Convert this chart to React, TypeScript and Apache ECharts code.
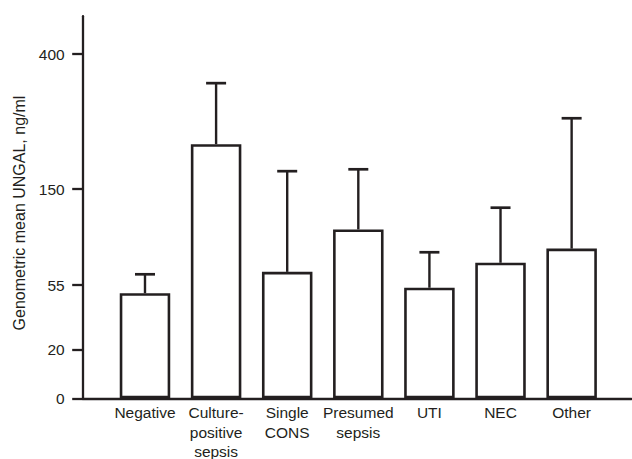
import React, { useEffect, useRef } from "react";
import * as echarts from "echarts";

// ---- data ----
const CATEGORIES = [
  "Negative",
  "Culture-\npositive\nsepsis",
  "Single\nCONS",
  "Presumed\nsepsis",
  "UTI",
  "NEC",
  "Other",
];
const GEO_MEAN = [50.5, 233, 68, 110, 53.5, 77, 91];
const UPPER_CI = [65.6, 346, 183, 186.5, 87.4, 131.5, 281];
const Y_TICKS = [0, 20, 55, 150, 400];
const Y_MAX_VALUE = 470;

// ---- axis scale definition (breakpoints of the non-linear y scale) ----
const SCALE_VALUES = [0, 20, 55, 150, 400];
const SCALE_UNITS = [0, 49, 113.3, 209.3, 344.3];

function toAxis(v: number): number {
  const n = SCALE_VALUES.length;
  for (let i = 0; i < n - 1; i++) {
    if (v <= SCALE_VALUES[i + 1] || i === n - 2) {
      const t = (v - SCALE_VALUES[i]) / (SCALE_VALUES[i + 1] - SCALE_VALUES[i]);
      return SCALE_UNITS[i] + t * (SCALE_UNITS[i + 1] - SCALE_UNITS[i]);
    }
  }
  return 0;
}
function fromAxis(u: number): number {
  const n = SCALE_UNITS.length;
  for (let i = 0; i < n - 1; i++) {
    if (u <= SCALE_UNITS[i + 1] || i === n - 2) {
      const t = (u - SCALE_UNITS[i]) / (SCALE_UNITS[i + 1] - SCALE_UNITS[i]);
      return SCALE_VALUES[i] + t * (SCALE_VALUES[i + 1] - SCALE_VALUES[i]);
    }
  }
  return 0;
}

const INK = "#231f20";
const FONT = "'Liberation Sans', Arial, Helvetica, sans-serif";

export default function App() {
  const ref = useRef<HTMLDivElement>(null);
  useEffect(() => {
    document.body.style.margin = "0";
    if (!ref.current) return;
    const chart = echarts.init(ref.current, undefined, { renderer: "svg" });
    const idx = CATEGORIES.map((_, i) => i);
    const option: any = {
      animation: false,
      backgroundColor: "#ffffff",
      grid: { left: 82.7, right: 0.5, top: 16.2, bottom: 60.7, outerBoundsMode: "none", containLabel: false },
      xAxis: {
        type: "value",
        min: -0.876,
        max: 6.842,
        splitLine: { show: false },
        axisTick: { show: false },
        axisLine: { show: true, onZero: false, lineStyle: { color: INK, width: 2.3 } },
        axisLabel: {
          customValues: idx,
          formatter: (v: number) => CATEGORIES[Math.round(v)] ?? "",
          color: INK,
          fontFamily: FONT,
          fontSize: 15.5,
          lineHeight: 19.3,
          margin: 5,
          verticalAlign: "top",
        },
      },
      yAxis: {
        type: "value",
        min: 0,
        max: toAxis(Y_MAX_VALUE),
        splitLine: { show: false },
        axisLine: { show: true, onZero: false, lineStyle: { color: INK, width: 2.3 } },
        axisTick: {
          show: true,
          customValues: Y_TICKS.map(toAxis),
          length: 10.5,
          lineStyle: { color: INK, width: 2.3 },
        },
        axisLabel: {
          customValues: Y_TICKS.map(toAxis),
          formatter: (v: number) => String(Math.round(fromAxis(v))),
          color: INK,
          fontFamily: FONT,
          fontSize: 15.5,
          margin: 18,
        },
      },
      graphic: [
        {
          type: "text",
          x: 19,
          y: 213,
          rotation: Math.PI / 2,
          style: {
            text: "Genometric mean UNGAL, ng/ml",
            fill: INK,
            font: `16px ${FONT}`,
            textAlign: "center",
            textVerticalAlign: "middle",
          },
        },
      ],
      series: [
        {
          type: "custom",
          data: idx.map((i) => [i, toAxis(GEO_MEAN[i]), toAxis(UPPER_CI[i])]),
          encode: { x: 0, y: [1, 2] },
          z: 1,
          renderItem: (params: any, api: any) => {
            const x = api.value(0);
            const p0 = api.coord([x, api.value(1)]);
            const p1 = api.coord([x, api.value(2)]);
            const st = { stroke: INK, lineWidth: 2.4 };
            return {
              type: "group",
              children: [
                { type: "line", shape: { x1: p0[0], y1: p0[1], x2: p1[0], y2: p1[1] }, style: st },
                { type: "line", shape: { x1: p1[0] - 10, y1: p1[1], x2: p1[0] + 10, y2: p1[1] }, style: { stroke: INK, lineWidth: 2.7 } },
              ],
            };
          },
        },
        {
          type: "bar",
          data: idx.map((i) => [i, toAxis(GEO_MEAN[i])]),
          barWidth: 50.5,
          z: 2,
          itemStyle: { color: "#ffffff", borderColor: INK, borderWidth: 2.6 },
        },
      ],
    };
    chart.setOption(option);
    return () => chart.dispose();
  }, []);
  return (
    <div
      ref={ref}
      style={{ width: 632, height: 459, position: "fixed", left: 0, top: 0, background: "#fff" }}
    />
  );
}
